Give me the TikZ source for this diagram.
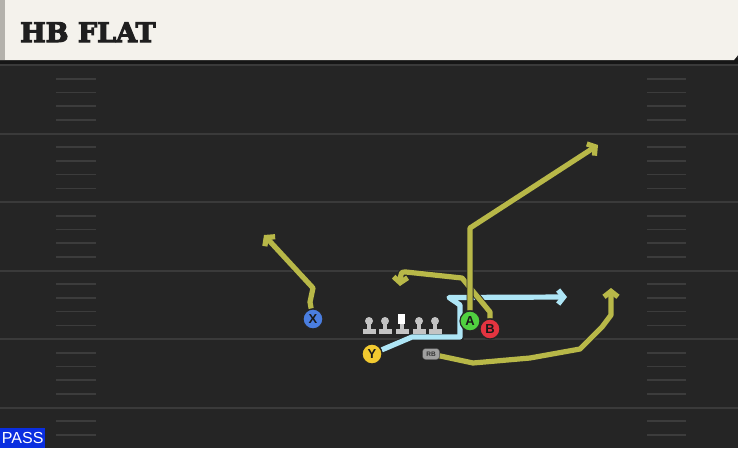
\documentclass[tikz,border=0pt]{standalone}
\usepackage{fontspec}
\usetikzlibrary{arrows.meta}
\newfontfamily\titlefont[FakeBold=4]{DejaVu Serif Bold}
\newfontfamily\labelfont{Liberation Sans}
\definecolor{fieldbg}{HTML}{252525}
\definecolor{bandcol}{HTML}{161616}
\definecolor{yardcol}{HTML}{3A3A3A}
\definecolor{hashcol}{HTML}{3C3C3C}
\definecolor{cream}{HTML}{F4F2EC}
\definecolor{creamedge}{HTML}{B4B2AC}
\definecolor{olive}{HTML}{B8B848}
\definecolor{skyline}{HTML}{AEE6F6}
\definecolor{pgreen}{HTML}{50D040}
\definecolor{pred}{HTML}{E43440}
\definecolor{pblue}{HTML}{4A7EE0}
\definecolor{pyellow}{HTML}{F2CA30}
\definecolor{rbgray}{HTML}{A0A0A0}
\definecolor{linegray}{HTML}{C4C4C4}
\definecolor{passblue}{HTML}{0A2EE0}
\pgfdeclarelayer{fieldlayer}
\pgfdeclarelayer{routelayer}
\pgfsetlayers{fieldlayer,routelayer,main}
\tikzset{
  player/.style={circle, draw=black!85, line width=1.2pt, minimum size=20pt, inner sep=0pt,
    font=\labelfont\bfseries\fontsize{13}{13}\selectfont, text=black!90},
  route/.style={line width=5.2pt, line join=round,
    preaction={draw=black!85, line width=7pt}},
  oliveroute/.style={route, draw=olive},
  blueroute/.style={route, draw=skyline},
  tip/.style={-{Straight Barb[length=5.5pt,width=14pt]}},
  yard/.style={draw=yardcol, line width=2pt},
  hash/.style={draw=hashcol, line width=1.6pt},
}
\begin{document}
\begin{tikzpicture}[x=1pt,y=-1pt]
\useasboundingbox (0,0) rectangle (738,448);
\begin{pgfonlayer}{fieldlayer}
\fill[fieldbg] (0,0) rectangle (738,448);
\fill[bandcol] (0,58) rectangle (738,64);
\fill[cream] (0,0) -- (738,0) -- (738,55) -- (734,60) -- (0,60) -- cycle;
\fill[creamedge] (0,0) rectangle (5,60);
\foreach \yy in {65,133.5,202,270.5,339,407.5} {
  \draw[yard] (0,\yy) -- (738,\yy);
}
\foreach \k in {1,...,27} {
  \pgfmathtruncatemacro{\m}{mod(\k,5)}
  \ifnum\m=0\else
    \pgfmathsetmacro{\yy}{65+13.7*\k}
    \draw[hash] (56,\yy) -- (96,\yy);
    \draw[hash] (647,\yy) -- (686,\yy);
  \fi
}
\end{pgfonlayer}

\node[anchor=base west, inner sep=0pt, font=\titlefont\fontsize{27}{27}\selectfont, text=black!88] (title) at (20,42) {HB FLAT};

\node[fill=passblue, anchor=south west, minimum width=45pt, minimum height=20pt, inner sep=0pt,
  font=\labelfont\fontsize{16}{16}\selectfont, text=white] (pass) at (0,448) {PASS};

% offensive line
\foreach \xx in {369,385,419,435} {
  \fill[linegray] (\xx-6.5,334) rectangle (\xx+6.5,329);
  \fill[linegray] (\xx-2,330) rectangle (\xx+2,324);
  \fill[linegray] (\xx,321) circle (4);
}
\fill[linegray] (395.5,334) rectangle (408.5,329);
\fill[linegray] (400,330) rectangle (404,324);
\fill[white] (398,314) rectangle (405,324);

% players
\node[player, fill=pblue] (X) at (313,319) {X};
\node[player, fill=pyellow] (Y) at (372,354) {Y};
\node[player, fill=pgreen] (A) at (470,321) {A};
\node[player, fill=pred] (B) at (490,329) {B};
\node[draw=black!70, fill=rbgray, rounded corners=3pt, minimum width=17pt, minimum height=11pt,
  inner sep=0pt, font=\labelfont\bfseries\fontsize{6.5}{6.5}\selectfont, text=black!80] (RB) at (431,354) {RB};

\coordinate (xend) at (264,235);
\coordinate (yend) at (567,297);
\coordinate (aend) at (598,145);
\coordinate (bend) at (400,286);
\coordinate (rbend) at (611,288);

\begin{pgfonlayer}{routelayer}
\draw[blueroute, tip] (Y) -- (412,337) -- (460,337) -- (460,305) -- (449,297.5) -- (yend);
\draw[oliveroute, tip] (X) -- (310,302) -- (313,288) -- (xend);
\draw[oliveroute, tip] (B) -- (490,312) -- (462,278) -- (406,272) .. controls (401,272) .. (bend);
\draw[oliveroute, tip] (A) -- (470,228) -- (aend);
\draw[oliveroute, tip] (RB) -- (473,363) -- (530,358) -- (580,349) -- (602,327) -- (611,315) -- (rbend);
\end{pgfonlayer}
\end{tikzpicture}
\end{document}
